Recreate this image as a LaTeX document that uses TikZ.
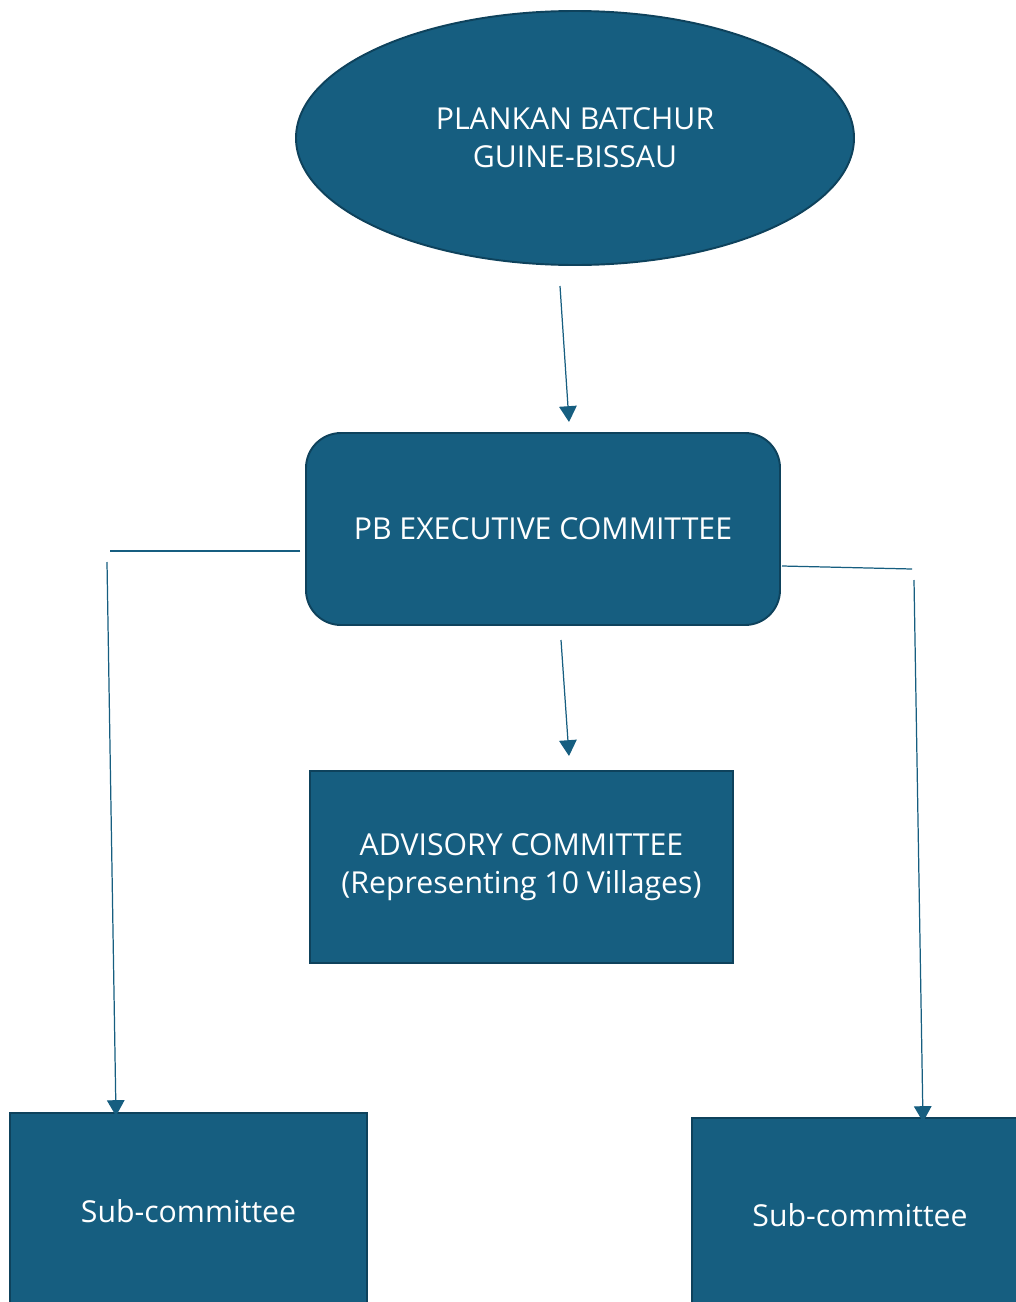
\documentclass[tikz,border=0pt]{standalone}
\usepackage{fontspec}
\setmainfont{Open Sans}
\usetikzlibrary{arrows.meta,shapes.geometric}
\definecolor{pbblue}{RGB}{22,94,128}
\definecolor{pbedge}{RGB}{14,66,92}

\begin{document}
\begin{tikzpicture}[
		% 1 enota = 1 piksel predloge
		x=0.2mm, y=-0.2mm,
		box/.style={draw=pbedge, line width=1.1pt, fill=pbblue, text=white,
			font=\fontsize{17.2}{21.5}\selectfont, align=center, inner sep=0pt},
		link/.style={draw=pbblue, line width=0.7pt},
		arrowlink/.style={link, -{Triangle[width=10pt,length=9pt]}},
		]
		\clip (0,0) rectangle (1016,1302);
		\node[box, ellipse, minimum width=111.6mm, minimum height=50.8mm] (plankan) at (575,138) {PLANKAN BATCHUR\\GUINE-BISSAU};
		\node[box, rounded corners=7mm, minimum width=94.8mm, minimum height=38.4mm] (executive) at (543,529) {PB EXECUTIVE COMMITTEE};
		\node[box, minimum width=84.6mm, minimum height=38.4mm] (advisory) at (521.5,867) {ADVISORY COMMITTEE\\(Representing 10 Villages)};
		\node[box, minimum width=71.4mm, minimum height=39.2mm] (subleft) at (188.5,1211) {Sub-committee};
		\node[box, minimum width=67.2mm, minimum height=38.8mm] (subright) at (860,1215) {Sub-committee};

		% proste konce povezav
		\coordinate (planout) at (560,286);
		\coordinate (execin) at (569,422);
		\coordinate (execout) at (561,640);
		\coordinate (advin) at (569,756);
		\coordinate (leftstart) at (300,551);
		\coordinate (leftcorner) at (110,551);
		\coordinate (leftdown) at (107,562);
		\coordinate (subleftin) at (116,1116);
		\coordinate (rightstart) at (782,566);
		\coordinate (rightcorner) at (912,569);
		\coordinate (rightdown) at (914,580);
		\coordinate (subrightin) at (923,1122);

		\draw[arrowlink] (planout) -- (execin);
		\draw[arrowlink] (execout) -- (advin);
		\draw[link] (leftstart) -- (leftcorner);
		\draw[arrowlink] (leftdown) -- (subleftin);
		\draw[link] (rightstart) -- (rightcorner);
		\draw[arrowlink] (rightdown) -- (subrightin);
	\end{tikzpicture}
\end{document}
